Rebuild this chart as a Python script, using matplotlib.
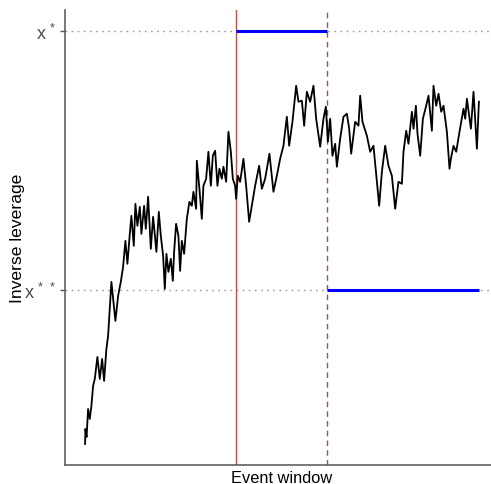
import numpy as np
import matplotlib
matplotlib.use("Agg")
import matplotlib.pyplot as plt

# Trading days since the start of the sample
t = [0, 0.3, 1.5, 3, 4.7, 6.3, 8, 9.7, 12.3, 14.7, 17, 19, 21.3, 23, 26.3, 30.3, 33,
     35.7, 38, 40.3, 42.3, 44.7, 46.3, 48.7, 50.3, 52.3, 54.7, 56.3, 59, 60.7, 63,
     65.7, 68, 71.3, 73.7, 75.7, 78, 79.7, 81.3,
     83.3, 85.7, 87.7, 89, 91, 93.3, 95, 96.7, 99, 101.7, 104.3, 106.7, 108.3, 111,
     111.7, 114.3, 116.7, 118.3, 121, 123.3, 125.7, 127.7, 130, 132.3, 134.3, 136.7,
     138.3, 141, 143.3, 145.7, 147.7, 150,
     151, 152.7, 155, 158.3, 161, 164, 166.7, 170, 174, 176.7, 180, 184.3, 188.3,
     191.7, 195, 198.3, 201.7, 204, 207.3, 211, 213.3, 216.7, 219, 221.7, 225, 228.3,
     231, 235, 238.3, 240.7, 242.7, 245,
     247.3, 250, 251.7, 255, 258.3, 261.7, 264, 266, 270, 273.3, 275, 277.3, 281.7,
     285, 288.3, 291.7, 294, 296.7, 300, 303.3, 306.7, 310, 313.3, 316.7, 318.3, 321,
     323.3, 326.7, 328.3, 330.7, 332.3, 335, 337.7, 341, 343.3, 346.7, 348.3, 351,
     353.3, 356, 358.3, 361.7, 364.3, 365.7, 368.3, 371, 374.3, 378.3, 380, 381.7,
     385.7, 388.3, 391.7, 393.7]

# Inverse leverage of the firm (arbitrary units)
inv_leverage = [20, 35, 27, 55, 45, 58, 78, 85, 107, 85, 105, 83, 115, 128, 182, 143, 168,
                182, 197, 223, 200, 230, 248, 218, 260, 238, 257, 230, 258, 235, 267,
                215, 247, 212, 252, 228, 208, 175, 210,
                192, 205, 183, 212, 240, 228, 193, 223, 210, 245, 262, 258, 272, 255,
                303, 275, 245, 278, 285, 312, 278, 308, 313, 278, 295, 285,
                297, 282, 332, 312, 285, 278,
                265, 288, 282, 305, 278, 242, 258, 278, 298, 275, 285, 310, 272,
                288, 305, 318, 347, 318, 342, 378, 362, 363, 338, 372, 362, 378,
                345, 317, 345, 357, 322, 345,
                308, 320, 297, 325, 347, 350, 335, 310, 342, 338, 368, 342, 328,
                312, 318, 282, 258, 292, 318, 298, 288, 255, 282, 280, 312, 333,
                320, 352, 335, 358, 330, 308, 345, 358, 368, 333, 378, 358,
                370, 352, 358, 332, 295, 305, 318, 312, 332, 355, 345, 365,
                335, 372, 315, 362]

event_start = 151      # announcement date
event_end = 242        # end of the event window
x_star = 433           # target level x*
x_star2 = 174          # target level x**
tick_labels = [r"$\mathregular{x^{\,*}}$", r"$\mathregular{x^{\,*\,*}}$"]

W, H = 491, 485
fig = plt.figure(figsize=(W / 100, H / 100), dpi=100)

# ggplot-like 5% expansion of the data range
x_lo, x_hi = min(t), max(t)
y_lo, y_hi = min(inv_leverage + [x_star, x_star2]), max(inv_leverage + [x_star, x_star2])
dx, dy = 0.05 * (x_hi - x_lo), 0.05 * (y_hi - y_lo)

ax = fig.add_axes([65.4 / W, (H - 465.65) / H, (498.6 - 65.4) / W, (465.65 - 11) / H])
ax.set_xlim(x_lo - dx, x_hi + dx)
ax.set_ylim(y_lo - dy, y_hi + dy)

grey_dot = dict(color="#9a9a9a", lw=1.0, ls=(0, (1.2, 3.2)), zorder=1)
ax.axhline(x_star, **grey_dot)
ax.axhline(x_star2, **grey_dot)

ax.plot(t, inv_leverage, color="black", lw=1.3, zorder=3)

ax.axvline(event_start, color="#c0504d", lw=1.0, zorder=2)
ax.axvline(event_end, color="#a05058", lw=1.0, ls=(0, (4, 3)), zorder=2)

ax.hlines(x_star, event_start, event_end, color="#0000ff", lw=2.2, zorder=4)
ax.hlines(x_star2, event_end, x_hi, color="#0000ff", lw=2.2, zorder=4)

for side in ("top", "right"):
    ax.spines[side].set_visible(False)
for side in ("left", "bottom"):
    ax.spines[side].set_color("#555555")
    ax.spines[side].set_linewidth(1.1)

ax.set_xticks([])
ax.set_yticks([x_star, x_star2])
ax.set_yticklabels(tick_labels, fontsize=13, color="#4d4d4d", family="Liberation Sans")
ax.tick_params(axis="y", length=3.5, width=1.0, color="#555555", pad=3)

ax.set_xlabel("Event window", fontsize=11.8, family="Liberation Sans", labelpad=4)
ax.set_ylabel("Inverse leverage", fontsize=12.6, family="Liberation Sans", labelpad=-1)

fig.savefig("out.png", dpi=100)
